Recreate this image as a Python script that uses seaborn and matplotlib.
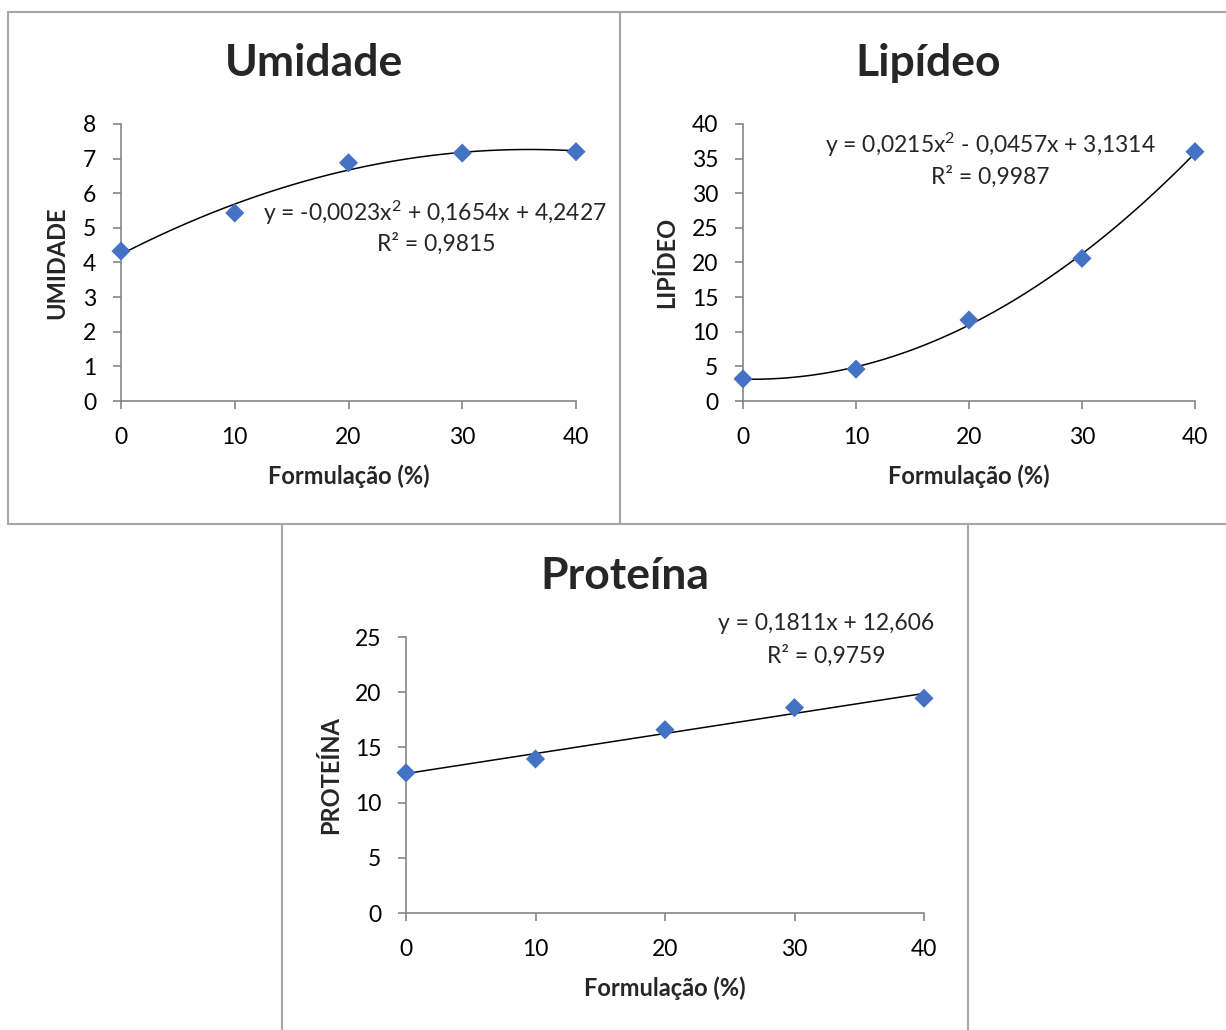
import numpy as np
import pandas as pd
import seaborn as sns
import matplotlib.pyplot as plt
from matplotlib.patches import Rectangle

# values
formulacao = [0, 10, 20, 30, 40]
umidade = [4.33, 5.43, 6.88, 7.16, 7.20]
lipideo = [3.2, 4.6, 11.7, 20.6, 36.0]
proteina = [12.7, 13.95, 16.6, 18.6, 19.45]

eq_umidade = ["y = -0,0023x$^{2}$ + 0,1654x + 4,2427", "R² = 0,9815"]
eq_lipideo = ["y = 0,0215x$^{2}$ - 0,0457x + 3,1314", "R² = 0,9987"]
eq_proteina = ["y = 0,1811x + 12,606", "R² = 0,9759"]

sns.set_style("white")
plt.rcParams["font.family"] = ["Lato", "DejaVu Sans"]
plt.rcParams["mathtext.default"] = "regular"

W, H = 1226, 1030
AXIS_GREY = "#868686"
BLUE = "#4472C4"


def px(x, y):
    # pixel position (top-left origin) -> figure fraction
    return x / W, 1 - y / H


def draw_panel(fig, box, data_y, order, yticks, title, ylabel, eq, title_xy,
               eq_xy, ylabel_x):
    left, top, right, bottom = box
    ax = fig.add_axes([left / W, 1 - bottom / H, (right - left) / W,
                       (bottom - top) / H])
    df = pd.DataFrame({"x": formulacao, "y": data_y})
    sns.regplot(data=df, x="x", y="y", order=order, ci=None, scatter=False,
                line_kws={"color": "black", "lw": 1.1}, ax=ax)
    sns.scatterplot(data=df, x="x", y="y", marker="D", s=95, color=BLUE,
                    edgecolor="none", ax=ax, zorder=3, clip_on=False)
    ax.set_xlim(0, 40)
    ax.set_ylim(yticks[0], yticks[-1])
    ax.set_xticks(formulacao)
    ax.set_yticks(yticks)
    sns.despine(ax=ax)
    for s in ["left", "bottom"]:
        ax.spines[s].set_color(AXIS_GREY)
        ax.spines[s].set_linewidth(1.2)
    ax.tick_params(axis="both", direction="out", length=5.8, width=1.2,
                   color=AXIS_GREY, labelsize=16.5, labelcolor="black",
                   bottom=True, left=True)
    ax.tick_params(axis="x", pad=13)
    ax.tick_params(axis="y", pad=12)
    ax.set_xlabel("Formulação (%)", fontsize=17, fontweight="bold")
    ax.set_ylabel(ylabel, fontsize=17, fontweight="bold")
    ax.xaxis.set_label_coords(0.5, -0.228)
    ax.yaxis.set_label_coords(ylabel_x, 0.5)

    fig.text(*px(*title_xy), title, fontsize=32, fontweight="bold",
             ha="center", va="center")
    fig.text(*px(*eq_xy[0]), eq[0], fontsize=16.5, ha="center", va="center")
    fig.text(*px(*eq_xy[1]), eq[1], fontsize=16.5, ha="center", va="center")
    return ax


fig = plt.figure(figsize=(W / 100, H / 100), dpi=100)

# panel frames
for x0, y0, x1, y1 in [(8, 12, 620, 524), (620, 12, 1240, 524),
                       (282, 524, 968, 1040)]:
    fig.patches.append(Rectangle(px(x0, y1), (x1 - x0) / W, (y1 - y0) / H,
                                 transform=fig.transFigure, fill=False,
                                 edgecolor="#A6A6A6", lw=1.5))

draw_panel(fig, (121, 124, 576, 401), umidade, 2, list(range(0, 9)),
           "Umidade", "UMIDADE", eq_umidade, (314, 63),
           [(435, 213), (436, 244)], -0.1165)
draw_panel(fig, (743, 124, 1195, 401), lipideo, 2, list(range(0, 41, 5)),
           "Lipídeo", "LIPÍDEO", eq_lipideo, (928, 63),
           [(990, 145), (990, 177)], -0.144)
draw_panel(fig, (406, 637, 924, 913), proteina, 1, list(range(0, 26, 5)),
           "Proteína", "PROTEÍNA", eq_proteina, (625, 576),
           [(826, 624), (826, 656)], -0.1236)

fig.savefig("out.png", dpi=100)
